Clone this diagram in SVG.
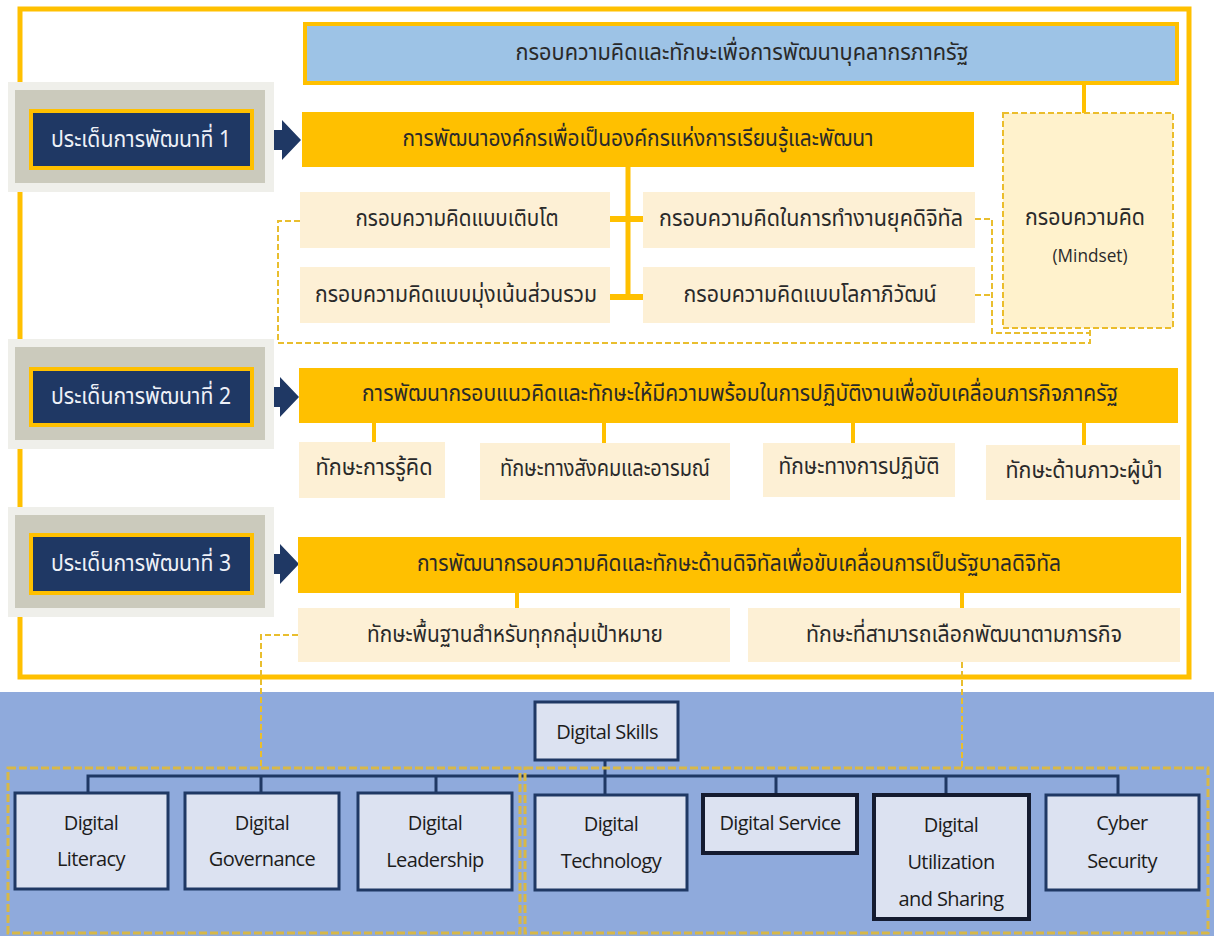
<svg xmlns="http://www.w3.org/2000/svg" width="1214" height="936" viewBox="0 0 1214 936">
<defs>
<style>
.th{font-family:"Noto Sans Thai","Noto Sans Thai Looped","Noto Sans","DejaVu Sans",sans-serif;font-size:23px;fill:#2a2a2a;text-anchor:middle;dominant-baseline:central}
.thw{fill:#eef1f8}
.en{font-family:"Open Sans","Liberation Sans",sans-serif;font-size:20px;fill:#1c1c1c;text-anchor:middle;dominant-baseline:central;letter-spacing:-0.6px}
.hdr{fill:#FFC000}
.cream{fill:#FDF0D5}
.navy{fill:#1F3864;stroke:#FFC000;stroke-width:4}
.gray{fill:#CBCABC}
.halo{fill:#EFEFEA}
.dbox{fill:#DCE2F1;stroke:#1F3864;stroke-width:3}
.dbox2{fill:#DCE2F1;stroke:#141B30;stroke-width:4}
.yl{stroke:#FFC000;fill:none}
.yd{stroke:#E9BE2E;stroke-width:2;fill:none;stroke-dasharray:6 3}
.bd{stroke:#D8B848;stroke-width:3;fill:none;stroke-dasharray:8 3}
.nv{stroke:#1F3864;stroke-width:3;fill:none}
.arrow{fill:#1F3864}
</style>
</defs>
<rect width="1214" height="936" fill="#ffffff"/>
<!-- bottom blue band -->
<rect x="0" y="692" width="1214" height="244" fill="#8FAADC"/>
<!-- outer frame -->
<rect x="20" y="9" width="1169" height="668" fill="none" stroke="#FFC000" stroke-width="5"/>

<g id="connectors">
  <!-- top to mindset -->
  <line class="yl" x1="1084" y1="83" x2="1084" y2="113" stroke-width="4"/>
  <!-- section 1 tree -->
  <line class="yl" x1="628" y1="166" x2="628" y2="298" stroke-width="5"/>
  <line class="yl" x1="608" y1="219" x2="645" y2="219" stroke-width="6"/>
  <line class="yl" x1="608" y1="297" x2="645" y2="297" stroke-width="6"/>
  <!-- dashed mindset links -->
  <path class="yd" d="M300 221 H278 V343 H1090 V328"/>
  <path class="yd" d="M975 219 H992 V333 H1090"/>
  <path class="yd" d="M975 295 H992"/>
  <!-- section 2 -->
  <line class="yl" x1="374" y1="423" x2="374" y2="442" stroke-width="4"/>
  <line class="yl" x1="604" y1="423" x2="604" y2="443" stroke-width="4"/>
  <line class="yl" x1="853" y1="423" x2="853" y2="443" stroke-width="4"/>
  <line class="yl" x1="1084" y1="423" x2="1084" y2="445" stroke-width="4"/>
  <!-- section 3 -->
  <line class="yl" x1="517" y1="593" x2="517" y2="608" stroke-width="4"/>
  <line class="yl" x1="962" y1="593" x2="962" y2="608" stroke-width="4"/>
  <path class="yd" d="M298 635 H261 V768"/>
  <path class="yd" d="M962 662 V768" stroke-dasharray="8 2"/>
  <!-- digital skills tree -->
  <path class="nv" d="M605 760 V795"/>
  <path class="nv" d="M88 793 V776 H1118 V795"/>
  <line class="nv" x1="261" y1="776" x2="261" y2="793"/>
  <line class="nv" x1="436" y1="776" x2="436" y2="793"/>
  <line class="nv" x1="776" y1="776" x2="776" y2="795"/>
  <line class="nv" x1="946" y1="776" x2="946" y2="795"/>
  <!-- arrows -->
  <path class="arrow" d="M258 130 H282 V120 L301 140 L282 160 V150 H258 Z"/>
  <path class="arrow" d="M256 387 H280 V377 L299 397 L280 417 V407 H256 Z"/>
  <path class="arrow" d="M256 554 H280 V544 L299 564 L280 584 V574 H256 Z"/>
</g>

<!-- bottom dashed group frames -->
<rect class="bd" x="8" y="768" width="512" height="165"/>
<rect class="bd" x="525" y="768" width="683" height="165"/>

<g id="top-frame">
  <rect x="305" y="24" width="872" height="59" fill="#9DC3E6" stroke="#FFC000" stroke-width="4"/>
  <text class="th" x="742" y="53" textLength="453" lengthAdjust="spacingAndGlyphs">กรอบความคิดและทักษะเพื่อการพัฒนาบุคลากรภาครัฐ</text>
</g>

<g id="issue1">
  <rect class="halo" x="8" y="82" width="266" height="110"/>
  <rect class="gray" x="15" y="90" width="250" height="93"/>
  <rect class="navy" x="31" y="111" width="221" height="57"/>
  <text class="th thw" x="141" y="140" textLength="180" lengthAdjust="spacingAndGlyphs">ประเด็นการพัฒนาที่ 1</text>
</g>
<g id="issue2">
  <rect class="halo" x="8" y="339" width="266" height="110"/>
  <rect class="gray" x="15" y="347" width="250" height="93"/>
  <rect class="navy" x="31" y="369" width="221" height="56"/>
  <text class="th thw" x="141" y="397" textLength="180" lengthAdjust="spacingAndGlyphs">ประเด็นการพัฒนาที่ 2</text>
</g>
<g id="issue3">
  <rect class="halo" x="8" y="507" width="266" height="110"/>
  <rect class="gray" x="15" y="515" width="250" height="93"/>
  <rect class="navy" x="31" y="535" width="221" height="58"/>
  <text class="th thw" x="141" y="564" textLength="180" lengthAdjust="spacingAndGlyphs">ประเด็นการพัฒนาที่ 3</text>
</g>

<g id="header1">
  <rect class="hdr" x="302" y="112" width="672" height="55"/>
  <text class="th" x="638" y="139" textLength="471" lengthAdjust="spacingAndGlyphs">การพัฒนาองค์กรเพื่อเป็นองค์กรแห่งการเรียนรู้และพัฒนา</text>
</g>
<g id="m-growth">
  <rect class="cream" x="300" y="192" width="310" height="56"/>
  <text class="th" x="457" y="219" textLength="203" lengthAdjust="spacingAndGlyphs">กรอบความคิดแบบเติบโต</text>
</g>
<g id="m-collective">
  <rect class="cream" x="300" y="267" width="310" height="56"/>
  <text class="th" x="456" y="295" textLength="282" lengthAdjust="spacingAndGlyphs">กรอบความคิดแบบมุ่งเน้นส่วนรวม</text>
</g>
<g id="m-digital">
  <rect class="cream" x="643" y="192" width="332" height="56"/>
  <text class="th" x="811" y="219" textLength="304" lengthAdjust="spacingAndGlyphs">กรอบความคิดในการทำงานยุคดิจิทัล</text>
</g>
<g id="m-global">
  <rect class="cream" x="643" y="267" width="332" height="56"/>
  <text class="th" x="810" y="295" textLength="253" lengthAdjust="spacingAndGlyphs">กรอบความคิดแบบโลกาภิวัฒน์</text>
</g>
<g id="mindset">
  <rect x="1003" y="113" width="170" height="215" fill="#FFF2CC" stroke="#EBBD2C" stroke-width="2" stroke-dasharray="6 3"/>
  <text class="th" x="1085" y="218" textLength="120" lengthAdjust="spacingAndGlyphs">กรอบความคิด</text>
  <text class="th" x="1090" y="255" style="font-family:'Open Sans','Liberation Sans',sans-serif;font-size:19px" textLength="75" lengthAdjust="spacingAndGlyphs">(Mindset)</text>
</g>

<g id="header2">
  <rect class="hdr" x="299" y="368" width="879" height="55"/>
  <text class="th" x="740" y="394" textLength="756" lengthAdjust="spacingAndGlyphs">การพัฒนากรอบแนวคิดและทักษะให้มีความพร้อมในการปฏิบัติงานเพื่อขับเคลื่อนภารกิจภาครัฐ</text>
</g>
<g id="s-cognitive">
  <rect class="cream" x="299" y="442" width="146" height="56"/>
  <text class="th" x="374" y="468" textLength="117" lengthAdjust="spacingAndGlyphs">ทักษะการรู้คิด</text>
</g>
<g id="s-social">
  <rect class="cream" x="480" y="443" width="250" height="57"/>
  <text class="th" x="605" y="469" textLength="210" lengthAdjust="spacingAndGlyphs">ทักษะทางสังคมและอารมณ์</text>
</g>
<g id="s-practice">
  <rect class="cream" x="763" y="443" width="192" height="54"/>
  <text class="th" x="859" y="467" textLength="161" lengthAdjust="spacingAndGlyphs">ทักษะทางการปฏิบัติ</text>
</g>
<g id="s-leader">
  <rect class="cream" x="986" y="445" width="194" height="55"/>
  <text class="th" x="1084" y="471" textLength="157" lengthAdjust="spacingAndGlyphs">ทักษะด้านภาวะผู้นำ</text>
</g>

<g id="header3">
  <rect class="hdr" x="298" y="537" width="883" height="56"/>
  <text class="th" x="739" y="564" textLength="644" lengthAdjust="spacingAndGlyphs">การพัฒนากรอบความคิดและทักษะด้านดิจิทัลเพื่อขับเคลื่อนการเป็นรัฐบาลดิจิทัล</text>
</g>
<g id="d-basic">
  <rect class="cream" x="298" y="608" width="432" height="54"/>
  <text class="th" x="515" y="635" textLength="296" lengthAdjust="spacingAndGlyphs">ทักษะพื้นฐานสำหรับทุกกลุ่มเป้าหมาย</text>
</g>
<g id="d-optional">
  <rect class="cream" x="748" y="608" width="432" height="54"/>
  <text class="th" x="964" y="635" textLength="316" lengthAdjust="spacingAndGlyphs">ทักษะที่สามารถเลือกพัฒนาตามภารกิจ</text>
</g>

<g id="digital-skills">
  <rect class="dbox" x="535" y="702" width="143" height="58"/>
  <text class="en" x="607" y="731">Digital Skills</text>
</g>
<g id="digital-literacy">
  <rect class="dbox" x="15" y="793" width="153" height="96"/>
  <text class="en" x="91" y="822">Digital</text>
  <text class="en" x="91" y="858">Literacy</text>
</g>
<g id="digital-governance">
  <rect class="dbox" x="185" y="793" width="154" height="96"/>
  <text class="en" x="262" y="822">Digital</text>
  <text class="en" x="262" y="858">Governance</text>
</g>
<g id="digital-leadership">
  <rect class="dbox" x="358" y="793" width="154" height="97"/>
  <text class="en" x="435" y="822">Digital</text>
  <text class="en" x="435" y="859">Leadership</text>
</g>
<g id="digital-technology">
  <rect class="dbox" x="535" y="795" width="152" height="95"/>
  <text class="en" x="611" y="823">Digital</text>
  <text class="en" x="611" y="860">Technology</text>
</g>
<g id="digital-service">
  <rect class="dbox2" x="703" y="795" width="154" height="58"/>
  <text class="en" x="780" y="822">Digital Service</text>
</g>
<g id="digital-utilization">
  <rect class="dbox2" x="874" y="795" width="155" height="124"/>
  <text class="en" x="951" y="824">Digital</text>
  <text class="en" x="951" y="861">Utilization</text>
  <text class="en" x="951" y="898">and Sharing</text>
</g>
<g id="cyber-security">
  <rect class="dbox" x="1046" y="795" width="153" height="95"/>
  <text class="en" x="1122" y="822">Cyber</text>
  <text class="en" x="1122" y="860">Security</text>
</g>
</svg>
